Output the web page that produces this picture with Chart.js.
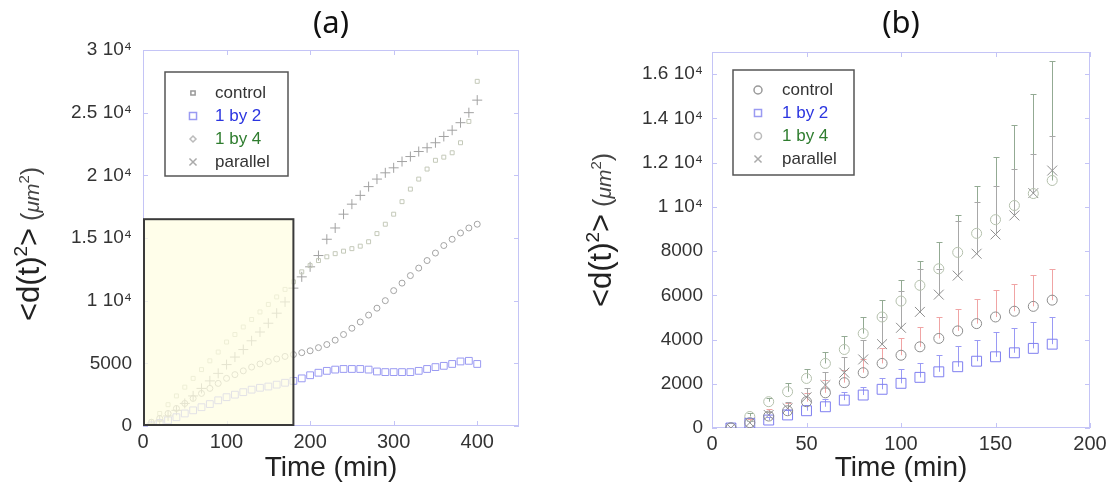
<!DOCTYPE html>
<html>
<head>
<meta charset="utf-8">
<script src="https://cdn.jsdelivr.net/npm/chart.js@4.4.1/dist/chart.umd.min.js"></script>
<style>
  html, body { margin: 0; padding: 0; background: #fff; }
  #wrap { display: flex; width: 1112px; height: 488px; }
  .panel { position: relative; width: 556px; height: 488px; }
</style>
</head>
<body>
<div id="wrap">
  <div class="panel"><canvas id="chartA"></canvas></div>
  <div class="panel"><canvas id="chartB"></canvas></div>
</div>
<script>
// ---- data ----
const seriesNames = ['control', '1 by 2', '1 by 4', 'parallel'];

// panel (a): full time course
const timeA = [10,20,30,40,50,60,70,80,90,100,110,120,130,140,150,160,170,180,190,200,
               210,220,230,240,250,260,270,280,290,300,310,320,330,340,350,360,370,380,390,400];
const controlA = [300,600,1000,1400,1800,2200,2600,3000,3400,3800,4100,4400,4700,4950,5150,5350,5550,5700,5850,6000,
                  6250,6500,6850,7300,7800,8300,8850,9400,10000,10800,11400,12000,12600,13200,13800,14400,14900,15400,15800,16100];
const by2A = [50,250,450,700,1000,1250,1500,1750,2050,2300,2500,2700,2900,3050,3150,3300,3450,3600,3800,4050,
              4250,4400,4500,4550,4550,4550,4500,4350,4300,4300,4300,4300,4400,4550,4700,4800,4950,5150,5200,4950];
const by4A = [350,1000,1700,2400,3100,3800,4500,5200,5900,6700,7300,7900,8500,9100,9700,10300,10900,11500,12300,12800,
              13200,13500,13750,13950,14150,14350,14700,15350,16100,16900,17900,18900,19700,20500,21200,21450,21800,22600,24300,27500];
const parallelA = [150,400,800,1250,1800,2400,3000,3600,4200,4900,5500,6100,6800,7500,8200,9000,9900,11000,11900,12700,
                   13600,14900,15800,16900,17700,18400,19100,19700,20200,20600,21100,21500,21900,22200,22600,23100,23600,24200,25000,26000];

// highlighted window of panel (a) = range shown in panel (b)
const boxTimeA = [0, 180];
const boxValueA = [0, 16500];

const xTicksA = [0, 100, 200, 300, 400];
const yTicksA = [0, 5000, 10000, 15000, 20000, 25000, 30000];
const yLabelsA = ['0', '5000', '1 10\u2074', '1.5 10\u2074', '2 10\u2074', '2.5 10\u2074', '3 10\u2074'];

// panel (b): first 180 min with error bars
const timeB = [10,20,30,40,50,60,70,80,90,100,110,120,130,140,150,160,170,180];
const controlB = [0,240,540,780,1190,1590,2050,2500,2920,3290,3670,4050,4390,4720,5020,5280,5500,5780];
const controlErrB = [0,180,330,370,410,580,570,640,680,800,900,970,1010,1130,1210,1250,1400,1420];
const by2B = [0,210,360,590,780,960,1260,1490,1750,2020,2290,2540,2770,3020,3220,3400,3600,3790];
const by2ErrB = [0,90,140,210,270,340,380,370,490,630,660,750,930,980,1130,1140,1200,1230];
const by4B = [20,520,1190,1640,2240,2920,3550,4270,5020,5740,6450,7200,7940,8800,9420,10060,10600,11190];
const by4ErrB = [0,170,150,380,410,500,600,750,760,970,1090,1190,1670,2160,2850,3640,4500,5400];
const parallelB = [0,240,590,890,1390,1940,2500,3100,3790,4530,5250,6030,6890,7880,8750,9610,10620,11640];
const parallelErrB = [0,80,150,300,400,600,700,900,1230,1650,1950,1170,2450,2330,2210,2110,1780,1560];

const xTicksB = [0, 50, 100, 150, 200];
const yTicksB = [0, 2000, 4000, 6000, 8000, 10000, 12000, 14000, 16000];
const yLabelsB = ['0', '2000', '4000', '6000', '8000', '1 10\u2074', '1.2 10\u2074', '1.4 10\u2074', '1.6 10\u2074'];

// ---- helpers ----
const FONT = '"Liberation Sans", Arial, sans-serif';
const FRAME = '#c4c4f6';
const legendText = ['#333333', '#2b35e0', '#2f7d2f', '#333333'];

function pts(xs, ys) {
  return xs.map((x, i) => ({ x, y: ys[i] }));
}

// draws frame + inward ticks, panel letter, y title, legend, error bars
function decorPlugin(cfg) {
  return {
    id: 'decor',
    beforeDatasetsDraw(chart) {
      const { ctx, chartArea: a, scales } = chart;
      ctx.save();
      ctx.strokeStyle = FRAME;
      ctx.lineWidth = 1;
      ctx.strokeRect(a.left + 0.5, a.top + 0.5, a.right - a.left - 1, a.bottom - a.top - 1);
      const tl = 5;
      ctx.beginPath();
      scales.x.ticks.forEach((t) => {
        const px = Math.round(scales.x.getPixelForValue(t.value)) + 0.5;
        ctx.moveTo(px, a.bottom); ctx.lineTo(px, a.bottom - tl);
        ctx.moveTo(px, a.top); ctx.lineTo(px, a.top + tl);
      });
      scales.y.ticks.forEach((t) => {
        const py = Math.round(scales.y.getPixelForValue(t.value)) + 0.5;
        ctx.moveTo(a.left, py); ctx.lineTo(a.left + tl, py);
        ctx.moveTo(a.right, py); ctx.lineTo(a.right - tl, py);
      });
      ctx.stroke();

      // error bars (upper side only)
      chart.data.datasets.forEach((ds) => {
        if (!ds.errors) return;
        ctx.strokeStyle = ds.errorColor;
        ctx.lineWidth = 1;
        ctx.beginPath();
        ds.data.forEach((p, i) => {
          const e = ds.errors[i];
          if (!e) return;
          const px = Math.round(scales.x.getPixelForValue(p.x)) + 0.5;
          const y0 = scales.y.getPixelForValue(p.y);
          const y1 = Math.round(scales.y.getPixelForValue(p.y + e)) + 0.5;
          ctx.moveTo(px, y0); ctx.lineTo(px, y1);
          ctx.moveTo(px - 3, y1); ctx.lineTo(px + 3, y1);
        });
        ctx.stroke();
      });
      ctx.restore();
    },
    afterDatasetsDraw(chart) {
      const { ctx, chartArea: a, scales } = chart;
      ctx.save();
      if (cfg.box) {
        const x0 = scales.x.getPixelForValue(cfg.box.x[0]);
        const x1 = scales.x.getPixelForValue(cfg.box.x[1]);
        const y0 = scales.y.getPixelForValue(cfg.box.y[0]);
        const y1 = scales.y.getPixelForValue(cfg.box.y[1]);
        ctx.fillStyle = 'rgba(255, 253, 226, 0.72)';
        ctx.fillRect(x0, y1, x1 - x0, y0 - y1);
        ctx.strokeStyle = '#3a3a3a';
        ctx.lineWidth = 2;
        ctx.strokeRect(x0 + 1, y1, x1 - x0 - 1, y0 - y1 - 1);
      }

      // legend
      const L = cfg.legend;
      const bx = a.left + L.dx, by = a.top + L.dy;
      ctx.fillStyle = '#fff';
      ctx.fillRect(bx, by, L.w, L.h);
      ctx.strokeStyle = '#555';
      ctx.lineWidth = 1.5;
      ctx.strokeRect(bx, by, L.w, L.h);
      ctx.font = '17px ' + FONT;
      ctx.textBaseline = 'middle';
      seriesNames.forEach((name, i) => {
        const cy = by + L.row0 + i * L.rowGap;
        const m = L.markers[i];
        ctx.strokeStyle = m.color;
        ctx.fillStyle = 'rgba(0,0,0,0)';
        Chart.helpers.drawPoint(ctx, { pointStyle: m.style, radius: m.r, rotation: 0, borderWidth: 1 }, bx + L.mx, cy);
        ctx.fillStyle = legendText[i];
        ctx.fillText(name, bx + L.tx, cy);
      });

      // panel letter
      ctx.fillStyle = '#111';
      ctx.font = '31px "Noto Sans", sans-serif';
      ctx.textAlign = 'center';
      ctx.textBaseline = 'middle';
      ctx.fillText(cfg.letter, (a.left + a.right) / 2, 24);

      // y title: <d(t)^2> (um^2)
      const parts = [
        { t: '<d(t)', f: '31px ' + FONT, c: '#222', rise: 0 },
        { t: '2', f: '19px ' + FONT, c: '#222', rise: 12 },
        { t: '>', f: '31px ' + FONT, c: '#222', rise: 0 },
        { t: ' (', f: '25px ' + FONT, c: '#444', rise: 0 },
        { t: '\u03bcm', f: 'italic 21px ' + FONT, c: '#444', rise: 0 },
        { t: '2', f: '15px ' + FONT, c: '#444', rise: 10 },
        { t: ')', f: '25px ' + FONT, c: '#444', rise: 0 }
      ];
      let total = 0;
      parts.forEach((p) => { ctx.font = p.f; p.w = ctx.measureText(p.t).width; total += p.w; });
      ctx.translate(cfg.yTitleX, (a.top + a.bottom) / 2 + cfg.yTitleShift);
      ctx.rotate(-Math.PI / 2);
      ctx.textAlign = 'left';
      ctx.textBaseline = 'alphabetic';
      let cx = -total / 2;
      parts.forEach((p) => {
        ctx.font = p.f;
        ctx.fillStyle = p.c;
        ctx.fillText(p.t, cx, 11 - p.rise);
        cx += p.w;
      });
      ctx.restore();
    }
  };
}

function makeScales(o) {
  return {
    x: {
      type: 'linear', min: 0, max: o.xMax,
      afterBuildTicks: (axis) => { axis.ticks = o.xTicks.map((v) => ({ value: v })); },
      afterFit: (axis) => { axis.height = o.xHeight; },
      grid: { display: false, drawTicks: false },
      border: { display: false },
      ticks: { font: { size: 20, family: FONT }, color: '#333', padding: 4, maxRotation: 0 },
      title: { display: true, text: 'Time (min)', font: { size: 28, family: FONT }, color: '#222', padding: { top: 0, bottom: 3 } }
    },
    y: {
      type: 'linear', min: 0, max: o.yMax,
      afterBuildTicks: (axis) => { axis.ticks = o.yTicks.map((v) => ({ value: v })); },
      afterFit: (axis) => { axis.width = o.yWidth; },
      grid: { display: false, drawTicks: false },
      border: { display: false },
      ticks: {
        font: { size: 19, family: FONT }, color: '#333', padding: o.yPad,
        callback: (v, i) => o.yLabels[i]
      }
    }
  };
}

function ds(label, data, style, r, color, extra) {
  return Object.assign({
    label, data, showLine: false,
    pointStyle: style, pointRadius: r, pointHoverRadius: r,
    borderColor: color, backgroundColor: 'rgba(0,0,0,0)', pointBorderWidth: 1
  }, extra || {});
}

const common = {
  animation: false,
  responsive: true,
  maintainAspectRatio: false,
  plugins: { legend: { display: false }, tooltip: { enabled: false } }
};

// ---- panel (a) ----
new Chart(document.getElementById('chartA'), {
  type: 'scatter',
  data: {
    datasets: [
      ds(seriesNames[0], pts(timeA, controlA), 'circle', 3, '#a4a4a4'),
      ds(seriesNames[1], pts(timeA, by2A), 'rect', 4.8, '#9a9af2'),
      ds(seriesNames[2], pts(timeA, by4A), 'rect', 2.8, '#c4c9b9'),
      ds(seriesNames[3], pts(timeA, parallelA), 'cross', 5, '#a2a2a2')
    ]
  },
  options: Object.assign({}, common, {
    layout: { padding: { top: 50, right: 37, left: 0, bottom: 0 } },
    scales: makeScales({ xMax: 450, xTicks: xTicksA, yMax: 30000, yTicks: yTicksA, yLabels: yLabelsA,
                         yWidth: 143, yPad: 11, xHeight: 62 })
  }),
  plugins: [decorPlugin({
    letter: '(a)', yTitleX: 28, yTitleShift: 6,
    box: { x: boxTimeA, y: boxValueA },
    legend: { dx: 22, dy: 22, w: 123, h: 104, row0: 21, rowGap: 23, mx: 28, tx: 50,
      markers: [
        { style: 'rect', r: 3, color: '#999' },
        { style: 'rect', r: 5, color: '#9a9af2' },
        { style: 'rectRot', r: 3, color: '#bbb' },
        { style: 'crossRot', r: 5, color: '#aaa' }
      ] }
  })]
});

// ---- panel (b) ----
new Chart(document.getElementById('chartB'), {
  type: 'scatter',
  data: {
    datasets: [
      ds(seriesNames[0], pts(timeB, controlB), 'circle', 5, '#8c8c8c', { errors: controlErrB, errorColor: '#f0a4a4' }),
      ds(seriesNames[1], pts(timeB, by2B), 'rect', 7, '#7f7ff0', { errors: by2ErrB, errorColor: '#9a9af4' }),
      ds(seriesNames[2], pts(timeB, by4B), 'circle', 5, '#b4c0ac', { errors: by4ErrB, errorColor: '#93aa93' }),
      ds(seriesNames[3], pts(timeB, parallelB), 'crossRot', 7, '#8e8e8e', { errors: parallelErrB, errorColor: '#a8a8a8' })
    ]
  },
  options: Object.assign({}, common, {
    layout: { padding: { top: 52, right: 22, left: 0, bottom: 0 } },
    scales: makeScales({ xMax: 200, xTicks: xTicksB, yMax: 17000, yTicks: yTicksB, yLabels: yLabelsB,
                         yWidth: 156, yPad: 9, xHeight: 60 })
  }),
  plugins: [decorPlugin({
    letter: '(b)', yTitleX: 44, yTitleShift: -10,
    legend: { dx: 21, dy: 18, w: 121, h: 105, row0: 20, rowGap: 23, mx: 25, tx: 49,
      markers: [
        { style: 'circle', r: 4, color: '#999' },
        { style: 'rect', r: 5, color: '#9a9af2' },
        { style: 'circle', r: 3.5, color: '#bbb' },
        { style: 'crossRot', r: 5, color: '#aaa' }
      ] }
  })]
});
</script>
</body>
</html>
